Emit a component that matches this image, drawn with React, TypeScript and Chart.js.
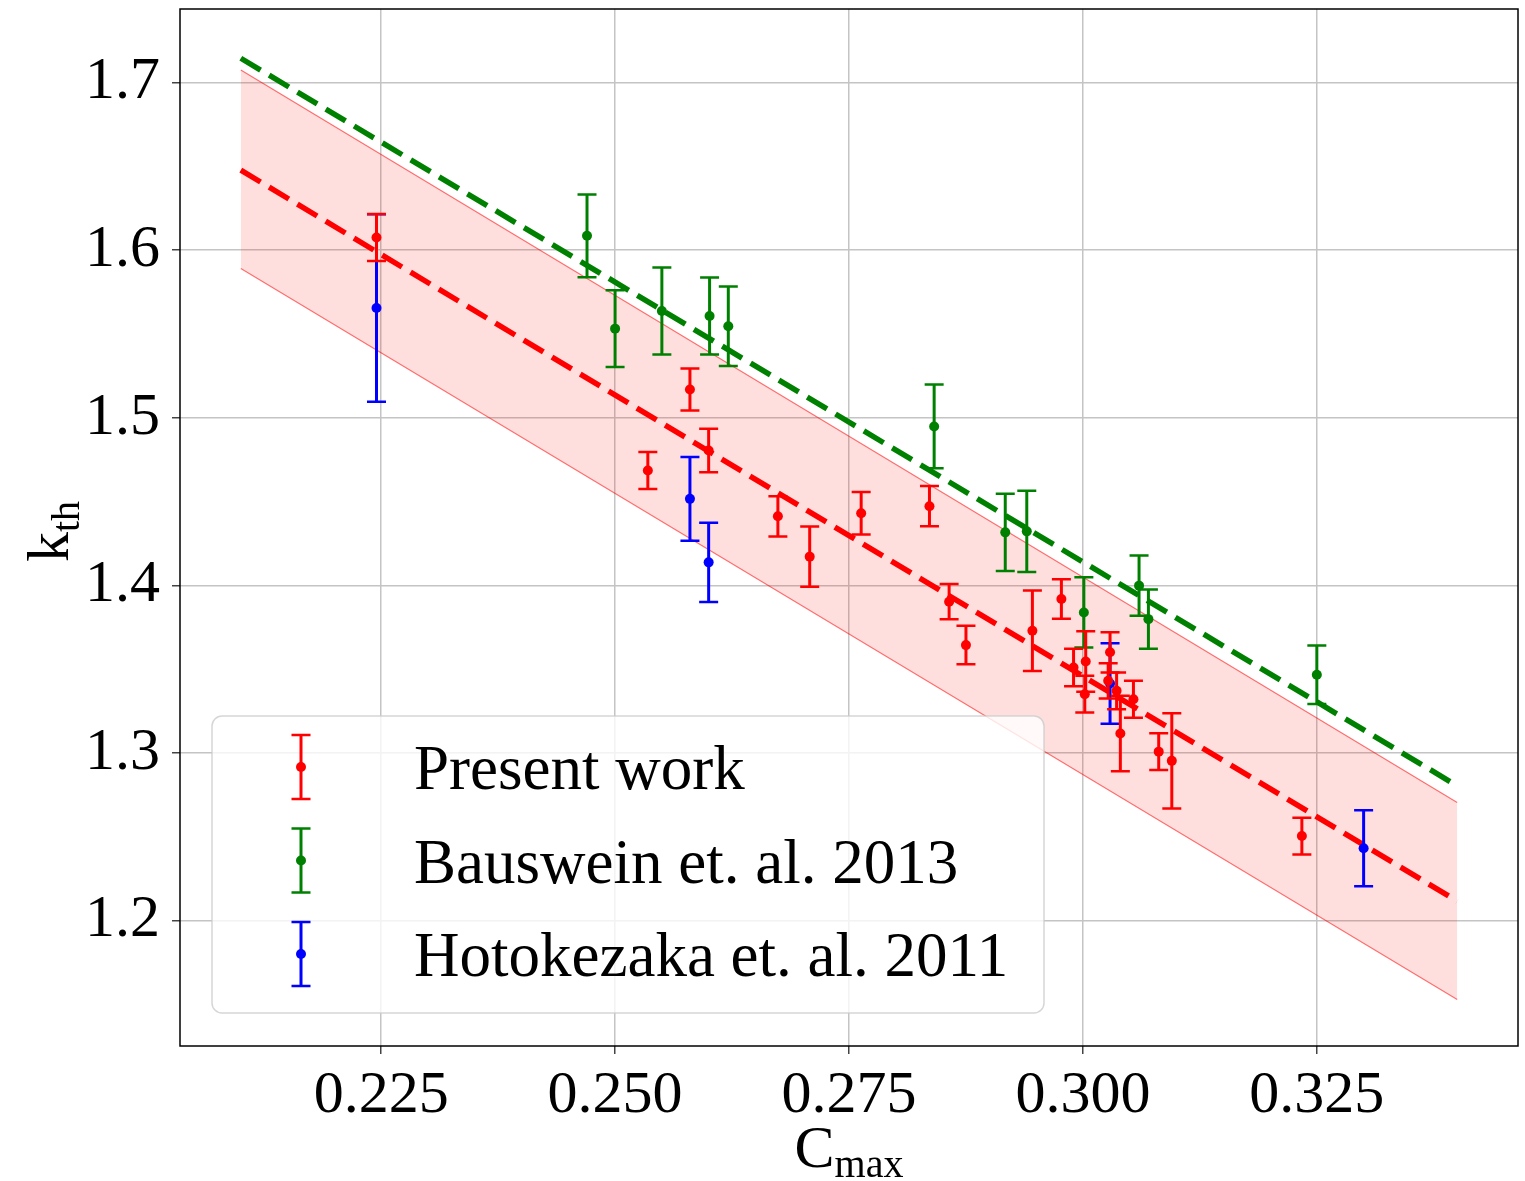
import React, { useEffect, useRef } from "react";
import { Chart, registerables } from "chart.js";

Chart.register(...registerables);

// Axis ticks
const xTicks = [0.225, 0.25, 0.275, 0.3, 0.325];
const yTicks = [1.2, 1.3, 1.4, 1.5, 1.6, 1.7];

// Present work
const presentX = [0.2245, 0.2535, 0.258, 0.26, 0.2674, 0.2708, 0.2763, 0.2836, 0.2857, 0.2875, 0.2946, 0.2977, 0.299, 0.3003, 0.3002, 0.3027, 0.3029, 0.3036, 0.304, 0.3054, 0.3081, 0.3095, 0.3234];
const presentY = [1.6076, 1.4685, 1.5169, 1.4805, 1.4412, 1.4171, 1.443, 1.4472, 1.3902, 1.3643, 1.3729, 1.3918, 1.3509, 1.3545, 1.335, 1.343, 1.36, 1.337, 1.3115, 1.332, 1.3007, 1.2952, 1.2503];
const presentErr = [0.014, 0.011, 0.0125, 0.013, 0.012, 0.018, 0.0127, 0.012, 0.0105, 0.0115, 0.024, 0.0118, 0.0112, 0.018, 0.011, 0.0105, 0.012, 0.011, 0.0225, 0.011, 0.011, 0.0284, 0.011];

// Bauswein et. al. 2013
const bausX = [0.247, 0.25, 0.255, 0.2601, 0.2621, 0.2841, 0.2917, 0.294, 0.3001, 0.306, 0.307, 0.325];
const bausY = [1.6086, 1.5532, 1.5637, 1.5607, 1.5546, 1.4948, 1.4316, 1.4322, 1.3838, 1.3998, 1.3798, 1.3466];
const bausErr = [0.0247, 0.0229, 0.026, 0.023, 0.0237, 0.025, 0.023, 0.0243, 0.021, 0.018, 0.0177, 0.0175];

// Hotokezaka et. al. 2011
const hotoX = [0.2245, 0.258, 0.26, 0.3029, 0.33];
const hotoY = [1.5655, 1.4516, 1.4137, 1.3414, 1.243];
const hotoErr = [0.056, 0.025, 0.0236, 0.024, 0.0227];

// Linear fits and the band around the present-work fit
const fitX = [0.21, 0.34];
const presentFit = [1.6478, 1.2115];
const bandUpper = [1.7076, 1.2703];
const bandLower = [1.5891, 1.1528];
const bausFit = [1.7146, 1.2803];

const RED = "#ff0000";
const GREEN = "#008000";
const BLUE = "#0000ff";
const SERIF = "'Liberation Serif', 'Times New Roman', serif";

const legendItems = [
  { label: "Present work", color: RED },
  { label: "Bauswein et. al. 2013", color: GREEN },
  { label: "Hotokezaka et. al. 2011", color: BLUE },
];

const pts = (xs: number[], ys: number[]) => xs.map((x, i) => ({ x, y: ys[i] }));

function drawErrorBar(ctx: CanvasRenderingContext2D, px: number, top: number, bottom: number, color: string) {
  ctx.save();
  ctx.strokeStyle = color;
  ctx.lineWidth = 3;
  ctx.beginPath();
  ctx.moveTo(px, top);
  ctx.lineTo(px, bottom);
  ctx.stroke();
  ctx.lineWidth = 2.5;
  ctx.beginPath();
  ctx.moveTo(px - 9.5, top);
  ctx.lineTo(px + 9.5, top);
  ctx.moveTo(px - 9.5, bottom);
  ctx.lineTo(px + 9.5, bottom);
  ctx.stroke();
  ctx.restore();
}

const errorBarPlugin = {
  id: "errorBars",
  beforeDatasetDraw(chart: any, args: any) {
    const ds = chart.data.datasets[args.index];
    if (!ds.errors) return;
    const { ctx } = chart;
    const xs = chart.scales.x;
    const ys = chart.scales.y;
    ds.data.forEach((p: any, i: number) => {
      const e = ds.errors[i];
      drawErrorBar(ctx, xs.getPixelForValue(p.x), ys.getPixelForValue(p.y + e), ys.getPixelForValue(p.y - e), ds.borderColor);
    });
  },
};

const decorPlugin = {
  id: "decor",
  afterDatasetsDraw(chart: any) {
    const { ctx } = chart;
    // legend box
    const bx = 212, by = 716, bw = 832, bh = 297;
    ctx.save();
    ctx.beginPath();
    ctx.roundRect(bx, by, bw, bh, 10);
    ctx.fillStyle = "rgba(255,255,255,0.8)";
    ctx.fill();
    ctx.strokeStyle = "rgba(204,204,204,0.8)";
    ctx.lineWidth = 1.5;
    ctx.stroke();
    legendItems.forEach((item, i) => {
      const cy = 767 + i * 93.5;
      drawErrorBar(ctx, 301, cy - 32, cy + 32, item.color);
      ctx.beginPath();
      ctx.arc(301, cy, 5, 0, Math.PI * 2);
      ctx.fillStyle = item.color;
      ctx.fill();
      ctx.fillStyle = "#000";
      ctx.font = `63px ${SERIF}`;
      ctx.textBaseline = "alphabetic";
      ctx.textAlign = "left";
      ctx.fillText(item.label, 414, cy + 22);
    });
    ctx.restore();
  },
  afterDraw(chart: any) {
    const { ctx, chartArea: a } = chart;
    ctx.save();
    // frame
    ctx.strokeStyle = "#000";
    ctx.lineWidth = 1.5;
    ctx.strokeRect(a.left, a.top, a.right - a.left, a.bottom - a.top);
    ctx.fillStyle = "#000";
    ctx.textBaseline = "alphabetic";
    // x title: C_max
    const cx = (a.left + a.right) / 2;
    ctx.font = `60px ${SERIF}`;
    const wC = ctx.measureText("C").width;
    ctx.font = `40px ${SERIF}`;
    const wSub = ctx.measureText("max").width;
    const x0 = cx - (wC + wSub) / 2;
    ctx.font = `60px ${SERIF}`;
    ctx.textAlign = "left";
    ctx.fillText("C", x0, 1167);
    ctx.font = `40px ${SERIF}`;
    ctx.fillText("max", x0 + wC, 1177);
    // y title: k_th
    ctx.translate(48, (a.top + a.bottom) / 2 + 4);
    ctx.rotate(-Math.PI / 2);
    ctx.font = `60px ${SERIF}`;
    const wk = ctx.measureText("k").width;
    ctx.font = `40px ${SERIF}`;
    const wth = ctx.measureText("th").width;
    const k0 = -(wk + wth) / 2;
    ctx.font = `60px ${SERIF}`;
    ctx.fillText("k", k0, 20);
    ctx.font = `40px ${SERIF}`;
    ctx.fillText("th", k0 + wk, 31);
    ctx.restore();
  },
};

export default function App() {
  const canvasRef = useRef<HTMLCanvasElement | null>(null);

  useEffect(() => {
    document.body.style.margin = "0";
    const canvas = canvasRef.current;
    if (!canvas) return;

    const pointStyle = (color: string) => ({
      borderColor: color,
      backgroundColor: color,
      pointRadius: 5,
      pointBorderWidth: 0,
    });

    const chart = new Chart(canvas, {
      type: "scatter",
      data: {
        datasets: [
          { label: "Present work", data: pts(presentX, presentY), errors: presentErr, ...pointStyle(RED) } as any,
          { label: "Bauswein et. al. 2013", data: pts(bausX, bausY), errors: bausErr, ...pointStyle(GREEN) } as any,
          { label: "Hotokezaka et. al. 2011", data: pts(hotoX, hotoY), errors: hotoErr, ...pointStyle(BLUE) } as any,
          {
            label: "present fit",
            data: pts(fitX, presentFit),
            showLine: true,
            borderColor: RED,
            borderWidth: 5.5,
            borderDash: [23, 10],
            pointRadius: 0,
            fill: false,
          },
          {
            label: "Bauswein fit",
            data: pts(fitX, bausFit),
            showLine: true,
            borderColor: GREEN,
            borderWidth: 5.5,
            borderDash: [23, 10],
            pointRadius: 0,
            fill: false,
          },
          {
            label: "band upper",
            data: pts(fitX, bandUpper),
            showLine: true,
            borderColor: "rgba(255,0,0,0.55)",
            borderWidth: 1.2,
            pointRadius: 0,
            fill: false,
          },
          {
            label: "band lower",
            data: pts(fitX, bandLower),
            showLine: true,
            borderColor: "rgba(255,0,0,0.55)",
            borderWidth: 1.2,
            pointRadius: 0,
            fill: "-1",
            backgroundColor: "rgba(255,0,0,0.13)",
          },
        ],
      },
      options: {
        responsive: true,
        maintainAspectRatio: false,
        animation: false,
        layout: { padding: { left: 0, top: 9, right: 7, bottom: 0 } },
        plugins: {
          legend: { display: false },
          tooltip: { enabled: false },
        },
        scales: {
          x: {
            type: "linear",
            min: 0.2035,
            max: 0.3465,
            afterFit: (s: any) => {
              s.height = 135;
              s.paddingLeft = 0;
              s.paddingRight = 0;
            },
            afterBuildTicks: (s: any) => {
              s.ticks = xTicks.map((v) => ({ value: v }));
            },
            grid: {
              color: "#c4c4c4",
              lineWidth: 1.5,
              tickLength: 8,
              tickColor: "#444",
              tickWidth: 1.5,
            },
            border: { display: false },
            ticks: {
              color: "#000",
              font: { family: SERIF, size: 60 },
              padding: 6,
              maxRotation: 0,
              callback: (v: any) => Number(v).toFixed(3),
            },
          },
          y: {
            type: "linear",
            min: 1.125,
            max: 1.744,
            afterFit: (s: any) => {
              s.width = 180;
              s.paddingTop = 0;
              s.paddingBottom = 0;
            },
            afterBuildTicks: (s: any) => {
              s.ticks = yTicks.map((v) => ({ value: v }));
            },
            grid: {
              color: "#c4c4c4",
              lineWidth: 1.5,
              tickLength: 8,
              tickColor: "#444",
              tickWidth: 1.5,
            },
            border: { display: false },
            ticks: {
              color: "#000",
              font: { family: SERIF, size: 60 },
              padding: 12,
              callback: (v: any) => Number(v).toFixed(1),
            },
          },
        },
      },
      plugins: [errorBarPlugin, decorPlugin],
    } as any);

    return () => chart.destroy();
  }, []);

  return (
    <div style={{ position: "absolute", left: 0, top: 0, width: 1525, height: 1181, background: "#fff" }}>
      <canvas ref={canvasRef} />
    </div>
  );
}
